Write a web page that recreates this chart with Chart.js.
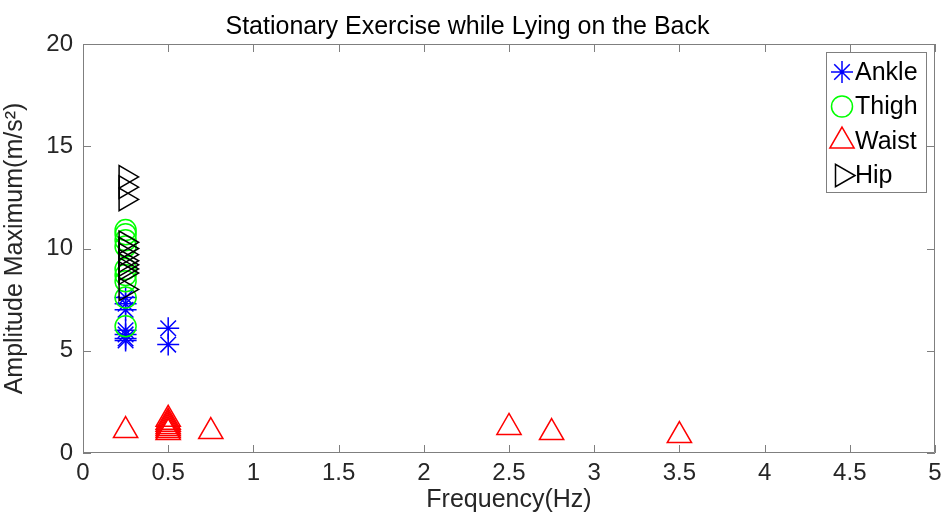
<!DOCTYPE html>
<html>
<head>
<meta charset="utf-8">
<script src="https://cdn.jsdelivr.net/npm/chart.js@4/dist/chart.umd.min.js"></script>
<style>
  html, body { margin: 0; padding: 0; background: #fff; }
  #wrap { width: 942px; height: 516px; }
</style>
</head>
<body>
<div id="wrap"><canvas id="chart" width="942" height="516"></canvas></div>
<script>
// values
const ankleX = [0.25, 0.25, 0.25, 0.25, 0.25, 0.25, 0.25, 0.5, 0.5];
const ankleY = [7.6, 7.3, 7.0, 6.0, 5.8, 5.6, 5.5, 6.1, 5.3];

const thighX = [0.25, 0.25, 0.25, 0.25, 0.25, 0.25, 0.25, 0.25, 0.25];
const thighY = [10.9, 10.7, 10.4, 10.1, 9.0, 8.7, 8.4, 7.6, 6.2];

const waistX = [0.25, 0.5, 0.5, 0.5, 0.5, 0.5, 0.5, 0.5, 0.75, 2.5, 2.75, 3.5];
const waistY = [1.1, 1.65, 1.5, 1.4, 1.3, 1.2, 1.1, 1.0, 1.05, 1.25, 1.0, 0.85];

const hipX = [0.25, 0.25, 0.25, 0.25, 0.25, 0.25, 0.25, 0.25, 0.25, 0.25, 0.25];
const hipY = [13.5, 13.0, 12.4, 10.3, 10.0, 9.7, 9.4, 9.2, 9.0, 8.8, 8.0];

const xTicks = [0, 0.5, 1, 1.5, 2, 2.5, 3, 3.5, 4, 4.5, 5];
const yTicks = [0, 5, 10, 15, 20];

const FONT = 'Arial, "Liberation Sans", sans-serif';
const AXIS_GRAY = '#7f7f7f';
const TEXT = '#262626';

const pts = (xs, ys) => xs.map((x, i) => ({ x: x, y: ys[i] }));

// series look (kept apart from the values)
const series = [
  { label: 'Ankle', data: pts(ankleX, ankleY), color: '#0000ff', style: 'star', radius: 11, rotation: 0 },
  { label: 'Thigh', data: pts(thighX, thighY), color: '#00ff00', style: 'circle', radius: 10.5, rotation: 0 },
  { label: 'Waist', data: pts(waistX, waistY), color: '#ff0000', style: 'triangle', radius: 14, rotation: 0 },
  { label: 'Hip', data: pts(hipX, hipY), color: '#000000', style: 'triangle', radius: 13, rotation: 90 }
];

/**
 * box round the axes with inward ticks, MATLAB style
 */
const boxTicks = {
  id: 'boxTicks',
  afterDatasetsDraw(chart) {
    const { ctx, chartArea: a, scales } = chart;
    const len = 8;
    ctx.save();
    ctx.strokeStyle = AXIS_GRAY;
    ctx.lineWidth = 1;
    ctx.beginPath();
    ctx.rect(a.left + 0.5, a.top + 0.5, a.right - a.left - 1, a.bottom - a.top - 1);
    xTicks.forEach(v => {
      const px = Math.round(scales.x.getPixelForValue(v)) + 0.5;
      ctx.moveTo(px, a.bottom); ctx.lineTo(px, a.bottom - len);
      ctx.moveTo(px, a.top); ctx.lineTo(px, a.top + len);
    });
    yTicks.forEach(v => {
      const py = Math.round(scales.y.getPixelForValue(v)) + 0.5;
      ctx.moveTo(a.left, py); ctx.lineTo(a.left + len, py);
      ctx.moveTo(a.right, py); ctx.lineTo(a.right - len, py);
    });
    ctx.stroke();
    ctx.restore();
  }
};

/**
 * legend box inside the top right corner
 */
const innerLegend = {
  id: 'innerLegend',
  afterDraw(chart) {
    const { ctx, chartArea: a } = chart;
    const w = 100, rowH = 34.5;
    const h = 140;
    const left = a.right - w - 9, top = a.top + 8;
    ctx.save();
    ctx.fillStyle = '#fff';
    ctx.fillRect(left, top, w, h);
    ctx.strokeStyle = AXIS_GRAY;
    ctx.lineWidth = 1;
    ctx.strokeRect(left + 0.5, top + 0.5, w, h);
    ctx.font = '25px ' + FONT;
    ctx.textBaseline = 'middle';
    series.forEach((s, i) => {
      const cy = top + 20 + i * rowH;
      const cx = left + 16;
      ctx.strokeStyle = s.color;
      ctx.fillStyle = 'rgba(0,0,0,0)';
      ctx.lineWidth = 1.5;
      Chart.helpers.drawPoint(ctx, {
        pointStyle: s.style, radius: s.radius, rotation: s.rotation, borderWidth: 1.5
      }, cx, cy);
      ctx.fillStyle = '#000';
      ctx.fillText(s.label, left + 29, cy + 1);
    });
    ctx.restore();
  }
};

new Chart(document.getElementById('chart'), {
  type: 'scatter',
  data: {
    datasets: series.map((s, i) => ({
      label: s.label,
      data: s.data,
      showLine: false,
      pointStyle: s.style,
      pointRadius: s.radius,
      pointRotation: s.rotation,
      pointBorderColor: s.color,
      pointBackgroundColor: 'rgba(0,0,0,0)',
      pointBorderWidth: 1.5,
      pointHoverRadius: s.radius,
      order: series.length - i
    }))
  },
  options: {
    responsive: false,
    animation: false,
    layout: { autoPadding: false, padding: { right: 7, left: 0, top: 0, bottom: 0 } },
    plugins: {
      legend: { display: false },
      tooltip: { enabled: false },
      title: {
        display: true,
        text: 'Stationary Exercise while Lying on the Back',
        color: '#000',
        font: { family: FONT, size: 25, weight: 'normal' },
        padding: { top: 12, bottom: 2 }
      }
    },
    scales: {
      x: {
        type: 'linear',
        min: 0, max: 5,
        afterBuildTicks: s => { s.ticks = xTicks.map(v => ({ value: v })); },
        afterFit: s => { s.height = 63; s.paddingLeft = 0; s.paddingRight = 0; },
        grid: { display: false, drawTicks: false },
        border: { display: false },
        ticks: {
          color: TEXT, font: { family: FONT, size: 24 }, padding: 6, maxRotation: 0,
          callback: v => String(v)
        },
        title: {
          display: true, text: 'Frequency(Hz)', color: TEXT,
          font: { family: FONT, size: 25 }, padding: { top: 0, bottom: 1 }
        }
      },
      y: {
        type: 'linear',
        min: 0, max: 20,
        afterBuildTicks: s => { s.ticks = yTicks.map(v => ({ value: v })); },
        afterFit: s => { s.width = 83; },
        grid: { display: false, drawTicks: false },
        border: { display: false },
        ticks: { color: TEXT, font: { family: FONT, size: 24 }, padding: 10 },
        title: {
          display: true, text: 'Amplitude Maximum(m/s²)', color: TEXT,
          font: { family: FONT, size: 25 }, padding: { top: 0, bottom: 4 }
        }
      }
    }
  },
  plugins: [boxTicks, innerLegend]
});
</script>
</body>
</html>
